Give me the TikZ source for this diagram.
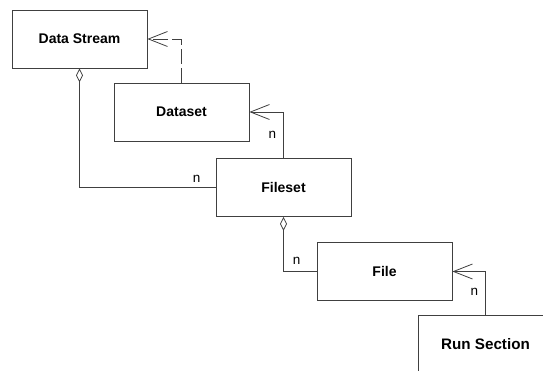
\documentclass[tikz,border=0pt]{standalone}
\usepackage{fontspec}
\setmainfont{Liberation Sans}
\usetikzlibrary{arrows.meta}

\begin{document}
\begin{tikzpicture}[x=1pt,y=-1pt,line width=0.8pt,
    entity/.style={draw=black!75, minimum width=135pt, minimum height=58pt,
      font=\fontsize{14}{16}\selectfont\bfseries},
    wire/.style={draw=black!75},
    mult/.style={font=\fontsize{13.5}{15}\selectfont, inner sep=2pt},
    tip/.style={wire, -{Straight Barb[length=19pt,width=15pt,line width=0.8pt]}},
    owner/.style={wire, {Diamond[open,length=14pt,width=7pt,line width=0.8pt]}-}]
  \useasboundingbox (0,0) rectangle (543,371);
  \clip (0,0) rectangle (543,371);

  % the entities, stepping down to the right
  \node [entity] (stream)  at (79.5,39)    {Data Stream};
  \node [entity] (dataset) at (181.5,112)  {Dataset};
  \node [entity] (fileset) at (283.5,187.5){Fileset};
  \node [entity] (file)    at (384.5,271.5){File};
  \node [entity, font=\fontsize{15.2}{17}\selectfont\bfseries]
    (runsec) at (485.5,344) {Run Section};

  % links between them
  \draw [tip, dash pattern=on 15pt off 4pt] (dataset.north) |- (stream.east);
  \draw [owner] (stream.south) |- (fileset.west)
    node [mult, pos=0.93, above=3pt] {n};
  \draw [tip] (fileset.north) |- (dataset.east)
    node [mult, pos=0.25, left=5pt] {n};
  \draw [owner] (fileset.south) |- (file.west)
    node [mult, pos=0.7, above=5pt] {n};
  \draw [tip] (runsec.north) |- (file.east)
    node [mult, pos=0.26, left=5pt] {n};
\end{tikzpicture}
\end{document}
